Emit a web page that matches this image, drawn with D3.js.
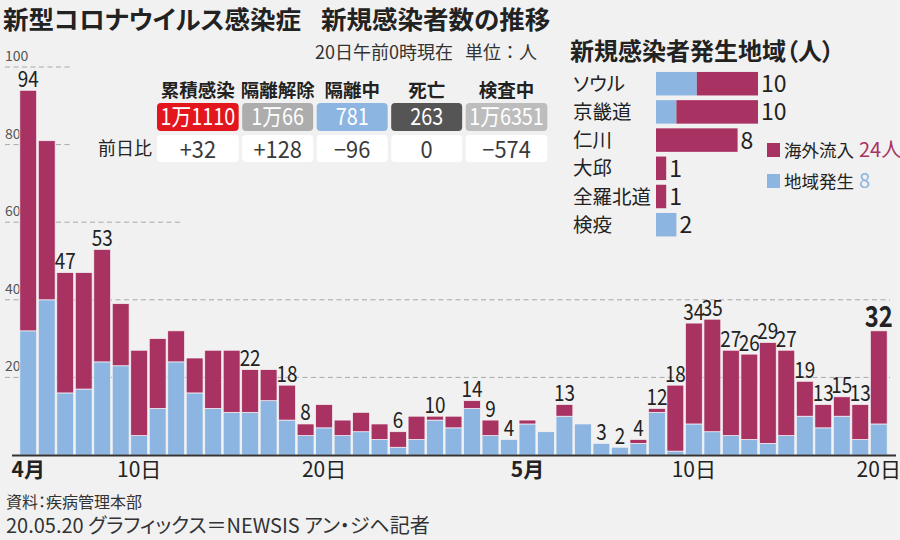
<!DOCTYPE html>
<html><head><meta charset="utf-8">
<script src="https://cdn.jsdelivr.net/npm/d3@7"></script>
<style>
html,body{margin:0;padding:0;background:#f1f1f1;}
svg{display:block;font-feature-settings:"palt";}
</style></head>
<body>
<svg id="c" width="900" height="540"></svg>
<script>
// ---------- data ----------
const dates = ["4/4","4/5","4/6","4/7","4/8","4/9","4/10","4/11","4/12","4/13",
  "4/14","4/15","4/16","4/17","4/18","4/19","4/20","4/21","4/22","4/23",
  "4/24","4/25","4/26","4/27","4/28","4/29","4/30","5/1","5/2","5/3",
  "5/4","5/5","5/6","5/7","5/8","5/9","5/10","5/11","5/12","5/13",
  "5/14","5/15","5/16","5/17","5/18","5/19","5/20"];
// 地域発生 (blue)
const localCases = [32,40,16,17,24,23,5,12,24,16,
  12,11,11,14,9,5,7,5,6,4,
  2,4,9,7,12,5,4,8,6,10,
  8,3,2,3,11,1,8,6,5,4,
  3,5,10,7,10,4,8];
// 海外流入 (magenta)
const importedCases = [62,41,31,30,29,16,22,18,8,9,
  15,16,11,8,9,3,6,4,5,4,
  4,6,1,3,2,4,0,1,0,3,
  0,0,0,1,1,17,26,29,22,22,
  26,22,9,6,5,9,24];
const labeledDates = ["4/4","4/6","4/8","4/16","4/18","4/19","4/24","4/26","4/28","4/29","4/30",
  "5/3","5/5","5/6","5/7","5/8","5/9","5/10","5/11","5/12","5/13","5/14","5/15","5/16","5/17","5/18","5/19","5/20"];
const highlightDate = "5/20";
const tickDates = ["4/4","4/10","4/20","5/1","5/10","5/20"];
const tickTexts = ["4月","10日","20日","5月","10日","20日"];
const yTicks = [20,40,60,80,100];

const tableHeaders = ["累積感染","隔離解除","隔離中","死亡","検査中"];
const tableValues = ["1万1110","1万66","781","263","1万6351"];
const tableDiffs = ["+32","+128","−96","0","−574"];

const regions = ["ソウル","京畿道","仁川","大邱","全羅北道","検疫"];
const regionLocal = [4,2,0,0,0,2];
const regionImported = [6,8,8,1,1,0];
const legendLabels = ["海外流入","地域発生"];
const legendTotals = ["24人","8"];

const titleParts = ["新型コロナウイルス感染症","新規感染者数の推移"];
const subtitleParts = ["20日午前0時現在","単位：人"];
const panelTitle = "新規感染者発生地域（人）";
const source = "資料：疾病管理本部";
const credit = "20.05.20 グラフィックス＝NEWSIS アン・ジヘ記者";

// ---------- style ----------
const MAG = "#a83262", BLUE = "#8cb6e1", BG = "#f1f1f1", INK = "#222";
const CJK = "'Noto Sans CJK JP', sans-serif";
const NUM = "'Liberation Sans Narrow', 'Arial Narrow', 'Noto Sans CJK JP', sans-serif";

const svg = d3.select("#c");
svg.append("rect").attr("width",900).attr("height",540).attr("fill",BG);

const x = d3.scaleBand().domain(dates).range([19, 888]).paddingInner(0.09).paddingOuter(0.045);
const y = d3.scaleLinear().domain([0,100]).range([455, 67]);

// gridlines
const gridEnd = {100:70, 80:73, 60:182, 40:890, 20:890};
const grid = svg.append("g");
grid.selectAll("line").data(yTicks).join("line")
  .attr("x1",5).attr("x2",d=>gridEnd[d])
  .attr("y1",d=>y(d)).attr("y2",d=>y(d))
  .attr("stroke","#a8a8a8").attr("stroke-width",1).attr("stroke-dasharray","5,3.5");
grid.selectAll("text").data(yTicks).join("text")
  .attr("x",5).attr("y",d=>y(d)-6)
  .attr("font-family",NUM).attr("font-size",14).attr("fill","#555")
  .text(d=>d);

// stacked bars
const rows = dates.map((d,i)=>({date:d, local:localCases[i], imported:importedCases[i]}));
const stack = d3.stack().keys(["local","imported"])(rows);
const colors = {local:BLUE, imported:MAG};
svg.append("g").selectAll("g").data(stack).join("g")
  .attr("fill",s=>colors[s.key])
  .selectAll("rect").data(s=>s).join("rect")
  .attr("x",d=>x(d.data.date)).attr("width",x.bandwidth())
  .attr("y",d=>y(d[1])).attr("height",d=>Math.max(0,y(d[0])-y(d[1])))
  .attr("stroke","#f7f4f5").attr("stroke-width",0.7);

// bar value labels
const lab = svg.append("g");
rows.filter(r=>labeledDates.includes(r.date)).forEach(r=>{
  const tot = r.local + r.imported;
  const hi = r.date===highlightDate;
  const cx = x(r.date)+x.bandwidth()/2;
  lab.append("text")
    .attr("transform",`translate(${cx},${y(tot)-3.5}) scale(${hi?0.82:0.86},1)`)
    .attr("text-anchor","middle")
    .attr("font-family",NUM).attr("font-size",hi?29:22)
    .attr("font-weight",hi?"bold":"normal")
    .attr("fill",INK).text(tot);
});

// baseline axis
svg.append("line").attr("x1",12).attr("x2",896).attr("y1",455.5).attr("y2",455.5)
  .attr("stroke","#333").attr("stroke-width",2);

// x tick labels
svg.append("g").selectAll("text").data(tickDates).join("text")
  .attr("x",d=>x(d)+x.bandwidth()/2).attr("y",477)
  .attr("text-anchor","middle")
  .attr("font-family",NUM).attr("font-size",21)
  .attr("font-weight",(d,i)=>tickTexts[i].includes("月")?"bold":"normal")
  .attr("fill",INK)
  .text((d,i)=>tickTexts[i]);

// titles
const tt = svg.append("text").attr("x",3).attr("y",29).attr("font-family",CJK).attr("font-size",25.5)
  .attr("font-weight","bold").attr("fill",INK);
tt.append("tspan").text(titleParts[0]);
tt.append("tspan").attr("dx",20).text(titleParts[1]);
const st = svg.append("text").attr("x",537).attr("y",59).attr("text-anchor","end").attr("font-family",CJK)
  .attr("font-size",18).attr("fill","#333").style("font-feature-settings","normal");
st.append("tspan").text(subtitleParts[0]);
st.append("tspan").attr("dx",12).text(subtitleParts[1]);

// table: boxes sized to their values, laid out left to right
const boxFill = ["#e3151d","#adadad","#8cb6e1","#555555","#bdbdbd"];
const VSCALE = 0.86;
const tg = svg.append("g");
const meas = tg.append("text").attr("font-family",NUM).attr("font-size",23).attr("visibility","hidden");
const widths = tableValues.map(v=>{ meas.text(v); return Math.max(71, meas.node().getComputedTextLength()*VSCALE + 7); });
meas.remove();
const lefts = []; let cur = 157;
widths.forEach(w=>{ lefts.push(cur); cur += w + 3.5; });
const cols = tableHeaders.map((h,i)=>({h, v:tableValues[i], dv:tableDiffs[i], x:lefts[i], w:widths[i], fill:boxFill[i]}));

tg.selectAll(".hd").data(cols).join("text")
  .attr("x",d=>d.x+d.w/2).attr("y",97).attr("text-anchor","middle")
  .attr("font-family",CJK).attr("font-size",18.5).attr("font-weight","bold").attr("fill",INK)
  .text(d=>d.h);
tg.selectAll(".b1").data(cols).join("rect")
  .attr("x",d=>d.x).attr("width",d=>d.w).attr("y",103).attr("height",28)
  .attr("rx",4).attr("fill",d=>d.fill);
tg.selectAll(".v1").data(cols).join("text")
  .attr("transform",d=>`translate(${d.x+d.w/2},125) scale(${VSCALE},1)`)
  .attr("text-anchor","middle").attr("font-family",NUM).attr("font-size",23).attr("fill","#fff")
  .text(d=>d.v);
tg.selectAll(".b2").data(cols).join("rect")
  .attr("x",d=>d.x).attr("width",d=>d.w).attr("y",135).attr("height",27)
  .attr("rx",4).attr("fill","#fff");
tg.selectAll(".v2").data(cols).join("text")
  .attr("transform",d=>`translate(${d.x+d.w/2},158) scale(0.95,1)`)
  .attr("text-anchor","middle").attr("font-family",NUM).attr("font-size",23).attr("fill","#3a3a3a")
  .text(d=>d.dv);
tg.append("text").attr("x",152).attr("y",155).attr("text-anchor","end")
  .attr("font-family",CJK).attr("font-size",18).attr("fill",INK).text("前日比");

// right panel
svg.append("text").attr("x",570).attr("y",60).attr("font-family",CJK).attr("font-size",24)
  .attr("font-weight","bold").attr("fill",INK).text(panelTitle);
const py = d3.scaleBand().domain(regions).range([69.6,238.8]).paddingInner(0.167).paddingOuter(0.0835);
const px = d3.scaleLinear().domain([0,10]).range([656,758]);
const pr = regions.map((r,i)=>({region:r, local:regionLocal[i], imported:regionImported[i]}));
const pstack = d3.stack().keys(["local","imported"])(pr);
svg.append("g").selectAll("g").data(pstack).join("g")
  .attr("fill",s=>colors[s.key])
  .selectAll("rect").data(s=>s).join("rect")
  .attr("x",d=>px(d[0])).attr("width",d=>px(d[1])-px(d[0]))
  .attr("y",d=>py(d.data.region)).attr("height",py.bandwidth());
svg.append("g").selectAll("text").data(pr).join("text")
  .attr("x",573).attr("y",d=>py(d.region)+py.bandwidth()/2+7)
  .attr("font-family",CJK).attr("font-size",19.5).attr("fill",INK).text(d=>d.region);
svg.append("g").selectAll("text").data(pr).join("text")
  .attr("x",d=>px(d.local+d.imported)+3).attr("y",d=>py(d.region)+py.bandwidth()/2+8.5)
  .attr("font-family",NUM).attr("font-size",23).attr("fill",INK).text(d=>d.local+d.imported);

// legend
const legColors = [MAG, BLUE];
const lg = svg.append("g");
legendLabels.forEach((l,i)=>{
  const cy = 150 + i*31;
  lg.append("rect").attr("x",767).attr("y",cy-7).attr("width",13).attr("height",14).attr("fill",legColors[i]);
  const t = lg.append("text").attr("x",784).attr("y",cy+6.5).attr("font-family",CJK).attr("font-size",17.5).attr("fill",INK);
  t.append("tspan").text(l);
  t.append("tspan").attr("dx",5).attr("fill",legColors[i]).attr("font-family",NUM).attr("font-size",20).text(legendTotals[i]);
});

// footer
svg.append("text").attr("x",6).attr("y",508).attr("font-family",CJK).attr("font-size",16)
  .attr("fill","#333").text(source);
svg.append("text").attr("x",6).attr("y",533).attr("font-family",CJK).attr("font-size",20)
  .attr("fill","#333").text(credit);
</script>
</body></html>
